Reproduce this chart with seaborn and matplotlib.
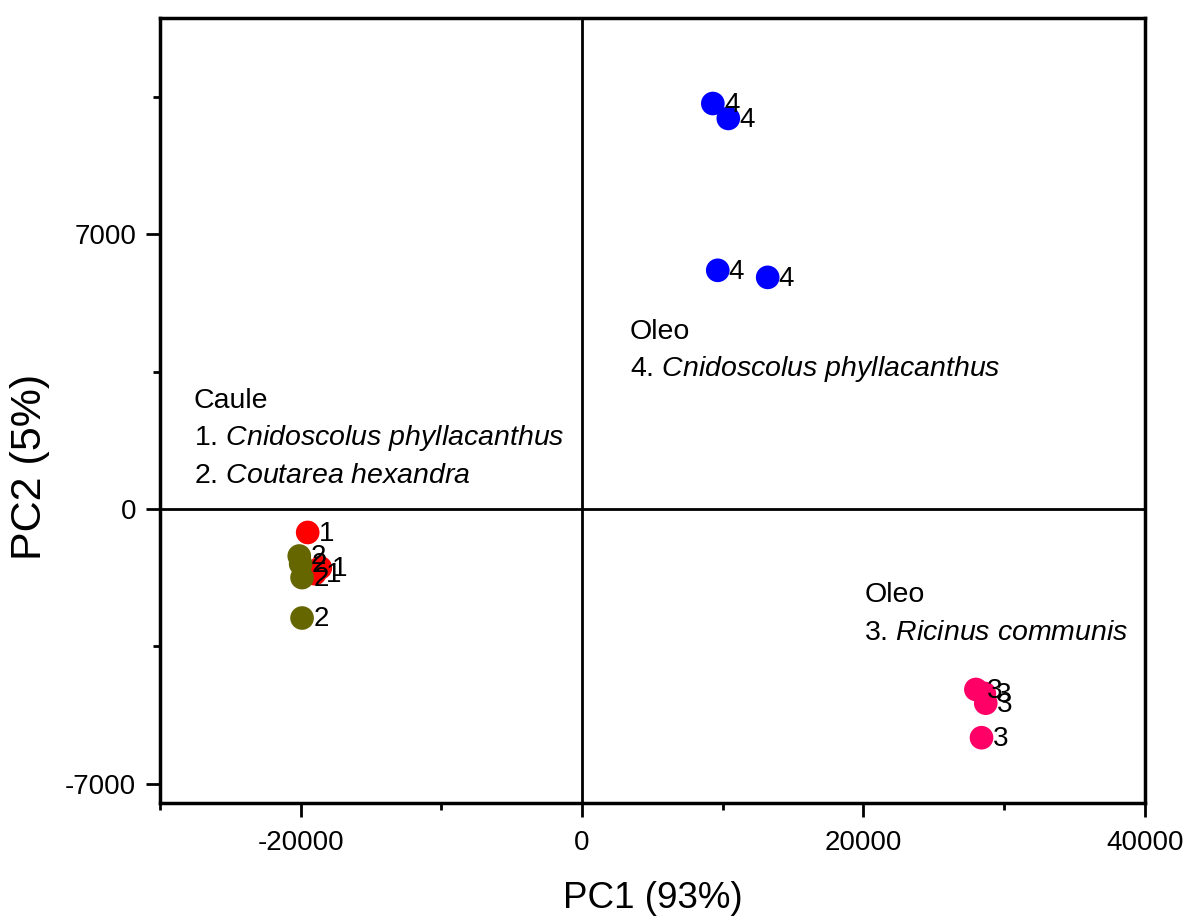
import numpy as np
import matplotlib
matplotlib.use("Agg")
import matplotlib.pyplot as plt
import seaborn as sns
import pandas as pd
from matplotlib.ticker import MultipleLocator

# PCA scores
groups = ["1", "1", "1", "2", "2", "2", "2", "3", "3", "3", "3", "4", "4", "4", "4"]
pc1 = [-19500, -18600, -19000, -20100, -19900, -19900, -20000,
       28000, 28600, 28700, 28400, 9300, 10400, 9650, 13200]
pc2 = [-600, -1500, -1650, -1200, -1750, -2780, -1400,
       -4600, -4700, -4950, -5830, 10330, 9950, 6080, 5900]

palette = {"1": "#ff0000", "2": "#666600", "3": "#ff0066", "4": "#0000ff"}

df = pd.DataFrame({"PC1": pc1, "PC2": pc2, "grupo": groups})

sns.set_style("white")
plt.rcParams["font.family"] = ["Liberation Sans", "DejaVu Sans"]
plt.rcParams["mathtext.fontset"] = "custom"
plt.rcParams["mathtext.it"] = "Liberation Sans:italic"
plt.rcParams["mathtext.rm"] = "Liberation Sans"
plt.rcParams["axes.unicode_minus"] = False
for k in ["text.color", "axes.labelcolor", "xtick.color", "ytick.color"]:
    plt.rcParams[k] = "black"

fig = plt.figure(figsize=(11.85, 9.18), dpi=100)
ax = fig.add_axes([0.135, 0.125, 0.831, 0.855])

ax.axvline(0, color="black", lw=2, zorder=1)
ax.axhline(0, color="black", lw=2, zorder=1)

sns.scatterplot(data=df, x="PC1", y="PC2", hue="grupo", palette=palette,
                s=290, edgecolor="none", legend=False, ax=ax, zorder=3)

for x, y, g in zip(pc1, pc2, groups):
    ax.annotate(g, (x, y), xytext=(8, -1), textcoords="offset points",
                fontsize=20, va="center", zorder=4)

txt = dict(fontsize=20.5, va="center")
ax.text(-27600, 2750, "Caule", **txt)
ax.text(-27600, 1810, r"1. $\it{Cnidoscolus\ phyllacanthus}$", **txt)
ax.text(-27600, 840, r"2. $\it{Coutarea\ hexandra}$", **txt)
ax.text(3400, 4500, "Oleo", **txt)
ax.text(3400, 3560, r"4. $\it{Cnidoscolus\ phyllacanthus}$", **txt)
ax.text(20070, -2190, "Oleo", **txt)
ax.text(20070, -3160, r"3. $\it{Ricinus\ communis}$", **txt)

ax.set_xlim(-30000, 40000)
ax.set_ylim(-7500, 12500)
ax.set_xticks([-20000, 0, 20000, 40000])
ax.set_yticks([-7000, 0, 7000])
ax.xaxis.set_minor_locator(MultipleLocator(10000))
ax.yaxis.set_minor_locator(MultipleLocator(3500))
ax.tick_params(which="major", direction="out", length=10, width=2,
               labelsize=20, bottom=True, left=True)
ax.tick_params(axis="x", which="major", pad=9)
ax.tick_params(axis="y", which="major", pad=7)
ax.tick_params(which="minor", direction="out", length=5, width=2,
               bottom=True, left=True)

for sp in ax.spines.values():
    sp.set_color("black")
    sp.set_linewidth(2.5)

ax.set_xlabel("PC1 (93%)", fontsize=26.5, labelpad=18)
ax.set_ylabel("PC2 (5%)", fontsize=31)
ax.yaxis.set_label_coords(-0.112, 0.428)

fig.savefig("out.png", dpi=100)
